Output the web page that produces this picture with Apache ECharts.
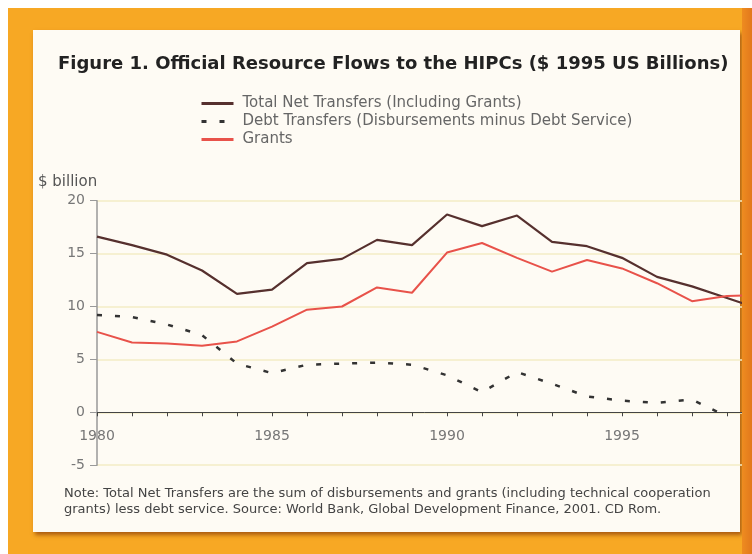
<!DOCTYPE html>
<html>
<head>
<meta charset="utf-8">
<script src="https://cdn.jsdelivr.net/npm/echarts@6/dist/echarts.min.js"></script>
<style>
html,body{margin:0;padding:0;background:#ffffff;}
#chart{width:752px;height:554px;}
</style>
</head>
<body>
<div id="chart"></div>
<script>
var years = [1980,1981,1982,1983,1984,1985,1986,1987,1988,1989,1990,1991,1992,1993,1994,1995,1996,1997,1998,1999];
var totalNet = [16.6,15.8,14.9,13.4,11.2,11.6,14.1,14.5,16.3,15.8,18.7,17.6,18.6,16.1,15.7,14.6,12.8,11.9,10.8,9.7];
var debtTransfers = [9.2,9.0,8.3,7.3,4.6,3.7,4.5,4.6,4.7,4.5,3.5,1.9,3.8,2.7,1.5,1.1,0.9,1.2,-0.4];
var grants = [7.6,6.6,6.5,6.3,6.7,8.1,9.7,10.0,11.8,11.3,15.1,16.0,14.6,13.3,14.4,13.6,12.2,10.5,11.0,11.1];
var seriesNames = ['Total Net Transfers (Including Grants)','Debt Transfers (Disbursements minus Debt Service)','Grants'];
var titleText = 'Figure 1. Official Resource Flows to the HIPCs ($ 1995 US Billions)';
var noteLines = ['Note: Total Net Transfers are the sum of disbursements and grants (including technical cooperation',
                 'grants) less debt service. Source: World Bank, Global Development Finance, 2001. CD Rom.'];
var yUnit = '$ billion';

function pairs(vals){ return vals.map(function(v,i){ return [years[i], v]; }); }

var chart = echarts.init(document.getElementById('chart'));
var font = 'DejaVu Sans';
chart.setOption({
  animation:false,
  textStyle:{fontFamily:font},
  graphic:[
    {type:'rect', z:-10, silent:true, shape:{x:8,y:8,width:744,height:546}, style:{fill:'#F7A824'}},
    {type:'rect', z:-9, silent:true, shape:{x:33,y:30,width:707,height:502},
      style:{fill:'#FEFBF4', shadowBlur:4, shadowOffsetX:2, shadowOffsetY:3, shadowColor:'rgba(140,60,10,0.7)'}},
    {type:'rect', z:100, silent:true, shape:{x:742,y:8,width:10,height:546},
      style:{fill:new echarts.graphic.LinearGradient(0,0,1,0,[{offset:0,color:'#EE8C20'},{offset:1,color:'#E2781C'}])}},
    {type:'text', z:10, left:38, top:175, style:{text:yUnit, fill:'#555', font:'15px "DejaVu Sans"'}},
    {type:'text', z:10, left:64, top:486, style:{text:noteLines.join('\n'), fill:'#444', font:'13px "DejaVu Sans"', lineHeight:16}}
  ],
  title:{text:titleText, left:53, top:50, textStyle:{fontFamily:font, fontWeight:'bold', fontSize:18, color:'#222'}},
  legend:{orient:'vertical', left:195, top:91, itemWidth:32, itemHeight:14, itemGap:3,
    itemStyle:{opacity:0}, lineStyle:{width:3},
    textStyle:{fontFamily:font, fontSize:15, color:'#666', padding:[0,0,0,4]}, data:seriesNames},
  grid:{left:97, top:200.7, width:665, height:264.5, outerBoundsMode:'none', containLabel:false},
  xAxis:{type:'value', min:1980, max:1999, interval:1, position:'bottom', offset:-52.9,
    axisLine:{onZero:false, lineStyle:{color:'#444', width:1}},
    axisTick:{show:true, length:4, inside:false, lineStyle:{color:'#444'}},
    axisLabel:{margin:17, color:'#777', fontSize:14, fontFamily:font,
      formatter:function(v){ return v%5===0 && v<1999 ? String(v) : ''; }},
    splitLine:{show:false}},
  yAxis:{type:'value', min:-5, max:20, interval:5,
    axisLine:{show:true, lineStyle:{color:'#999', width:1.5}},
    axisTick:{show:true, length:7, lineStyle:{color:'#999'}},
    axisLabel:{margin:12, color:'#777', fontSize:14, fontFamily:font},
    splitLine:{show:true, lineStyle:{color:'#F3EDC6', width:1.5}}},
  series:[
    {name:seriesNames[0], type:'line', data:pairs(totalNet), symbol:'none', z:3,
      lineStyle:{color:'#56302E', width:2.2}, itemStyle:{color:'#56302E'}},
    {name:seriesNames[1], type:'line', data:pairs(debtTransfers), symbol:'none', z:2,
      lineStyle:{color:'#333', width:2.5, type:[5,13]}, itemStyle:{color:'#333'}},
    {name:seriesNames[2], type:'line', data:pairs(grants), symbol:'none', z:4,
      lineStyle:{color:'#E8524A', width:2}, itemStyle:{color:'#E8524A'}}
  ]
});
</script>
</body>
</html>
